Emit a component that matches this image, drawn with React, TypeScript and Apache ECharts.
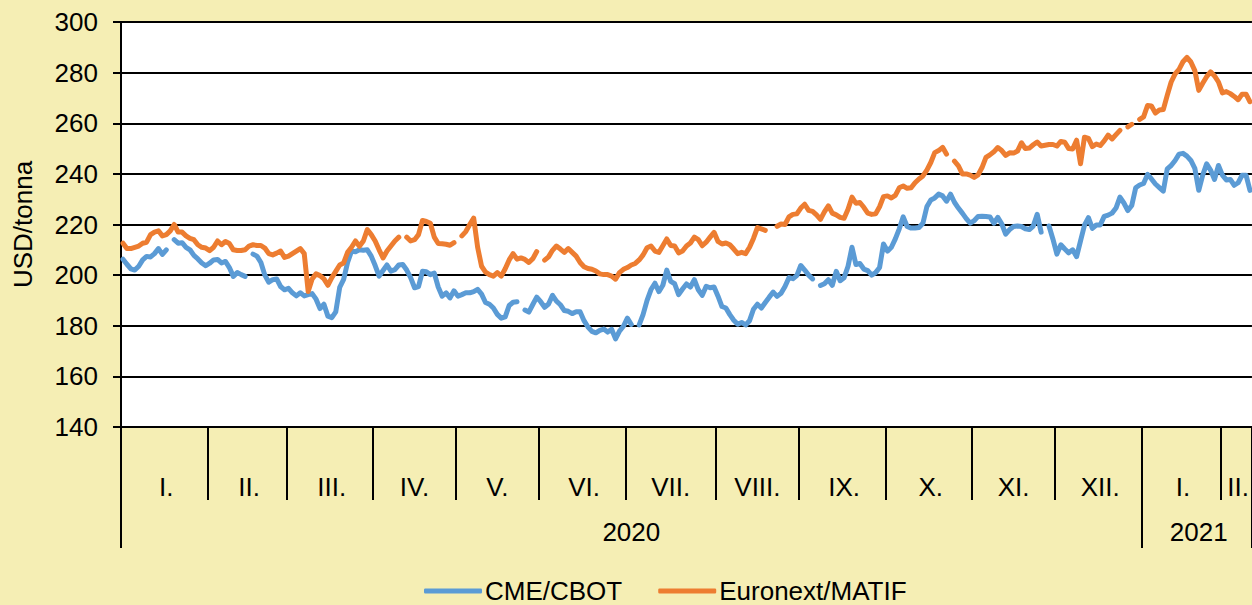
import React, { useEffect, useRef } from "react";
import * as echarts from "echarts";

// Month structure (trading days shown per month)
const monthLabels = ["I.", "II.", "III.", "IV.", "V.", "VI.", "VII.", "VIII.", "IX.", "X.", "XI.", "XII.", "I.", "II."];
const monthYears = [2020, 2020, 2020, 2020, 2020, 2020, 2020, 2020, 2020, 2020, 2020, 2020, 2021, 2021];
const monthNumbers = [1, 2, 3, 4, 5, 6, 7, 8, 9, 10, 11, 12, 1, 2];
const monthTradingDays = [22, 20, 22, 21, 21, 22, 23, 21, 22, 22, 21, 22, 20, 8];
const yearLabels = ["2020", "2021"];

const seriesNames = ["CME/CBOT", "Euronext/MATIF"];

// USD/tonna, one value per trading day (null = no quotation)
const cmeCbot = [
  206.3, 204.3, 202.5, 202, 203.5, 206, 207.4, 207.2, 208.5, 210.5, 208.2, 210, null, 214, 212.6, 212.8, 211, 210, 207.8, 206.4, 204.8, 203.7,
  204.7, 206, 206.2, 204.8, 205.4, 203, 199.5, 201, 200.2, 199.5, null, 208.3, 207.5, 205, 200, 197.2, 198.2, 198.5, 195.5, 194.2,
  194.8, 193, 191.8, 193, 191.8, 192.3, 192.7, 190.5, 186.8, 188.5, 183.8, 183.2, 185.5, 195.2, 198.3, 205, 209.5, 209.2, 210, 209.8, 210, 207.5,
  203.8, 199.6, 201.8, 204, 201.6, 202.2, 204, 204.2, 202, 199, 195, 195.5, 201.5, 201.3, 200.2, 200.8, 195.3, 191.7, 193, 191, 193.8,
  191.7, 192.3, 193, 193, 193.5, 194.4, 192.5, 189.2, 188.5, 187, 184.5, 183, 183.5, 188, 189.3, 189.5, null, 186.2, 185.4, 188.4, 191.3,
  189.5, 187.3, 188.6, 192, 189.7, 188.3, 186, 185.7, 184.8, 185.5, 185.5, 182, 179.5, 177.8, 177.2, 178.2, 178.7, 177.5, 178.6, 174.8, 177.9, 179.8,
  183, 180.5, null, 180.3, 184.5, 190, 194.3, 196.8, 193.5, 196, 202, 197.5, 196.6, 192.3, 194.5, 196.5, 195.3, 198.2, 194.2, 192, 195.6, 195, 195.3,
  191.7, 187.6, 187, 184.4, 182.2, 180.6, 181.3, 180.3, 182, 186.5, 188.5, 187, 189.2, 191.3, 193.3, 191.6, 192.8, 195.5, 199, 198.6, 199.8,
  203.8, 202, 200, 198.5, null, 195.9, 196.6, 198.2, 196, 201.5, 197.8, 199, 203.5, 211, 204.2, 204.6, 202.4, 201.8, 200, 201, 203, 212.3,
  209.5, 211, 214.3, 218.3, 223, 219.2, 218.6, 218.6, 218.8, 220.5, 227, 229.7, 230.5, 232, 231.3, 229.2, 232, 228.8, 226.5, 224.5, 222.3, 220.5,
  221.5, 223.2, 223.3, 223.2, 223, 220.5, 222.8, 220.3, 216.2, 218, 219.2, 219.4, 219.2, 218.3, 218, 219.4, 224, 217, null, 219.4, 214.2,
  208.3, 212, 210.3, 208.8, 210, 207.3, 213.5, 219.7, 222.7, 218.5, 219.8, 219.8, 223.2, 223.7, 224.5, 226.5, 230.8, 228.5, 225.5, 227.5, 234.5, 235.6,
  236.2, 239.8, 238, 236, 234.6, 233.2, 242, 243.3, 245.3, 247.8, 248.1, 247, 245.3, 242.2, 233.5, 239.5, 244, 241.5, 237.8, 243.3,
  239.5, 237.6, 237.8, 235.5, 236.5, 239.5, 239.5, 233.5,
];

const euronextMatif = [
  212.6, 210.5, 210.5, 211, 211.5, 212.6, 213, 216, 217, 217.5, 215.5, 216, 217.5, 220, 217, 217, 215.5, 214.5, 214, 212, 211, 210.7,
  209.7, 211, 213.5, 212, 213.3, 212.5, 210, 209.7, 209.7, 210, 211.5, 212, 211.7, 211.7, 210.7, 208.5, 208, 208.7, 209.5, 207,
  207.5, 208.5, 209.5, 210.5, 208.5, 193.5, 198.5, 200.5, 199.8, 198.5, 196, 199, 201.5, 204, 204.8, 209, 211, 213.5, 211.4, 213.5, 218, 216,
  213.5, 210, 206.8, 209.5, 211.5, 213.5, 215, null, 215, 213.5, 214, 216, 221.6, 221.2, 220.5, 215, 212.5, 212.4, 212.2, 211.8, 212.8,
  null, 215.5, 217.2, 220, 222.5, 211, 203.5, 201.2, 200.2, 199.6, 201, 199.6, 202.5, 206, 208.5, 206.3, 206.8, 206.2, 205, 206.5, 209.3,
  null, 205.9, 207.2, 209.8, 211.5, 210.3, 209, 210.5, 209, 207.5, 205, 203.3, 202.6, 202.3, 201.6, 200.5, 200.2, 200.2, 199.6, 198.4, 201, 202.3,
  203, 204, 204.6, 206, 208, 210.8, 211.5, 209.5, 209, 211.6, 214.3, 211.7, 211.5, 208.8, 209.5, 211.5, 212.7, 215, 214, 211.6, 213, 215, 216.9,
  213.3, 212.3, 212.7, 212, 210.3, 208.5, 209, 208.5, 211, 214.5, 218.8, 218.3, 217.7, null, null, 219.3, 220.2, 220, 223, 224, 224.2,
  226.5, 228, 225.6, 225.2, 223.8, 222, 225, 227.4, 224.5, 223.8, 222.8, 222.5, 226, 230.8, 228.4, 228.7, 226.8, 224.5, 224, 224.2, 227, 231,
  231.3, 230.5, 231.5, 234.5, 235.2, 234.3, 234.5, 236.5, 238, 239.2, 241.5, 244.5, 248.4, 249.2, 250.5, 247.8, null, 245, 243.2, 240, 240, 239.5,
  238.6, 239.6, 242.5, 246.5, 247.5, 248.7, 250.4, 249.2, 247.3, 248.3, 248.2, 249, 252.3, 250, 250.2, 251.5, 252.6, 251, 251.3, 251.6, 251.6,
  251, 252.8, 252.5, 250, 249.8, 253.3, 244, 254.5, 254, 250.8, 251.8, 251.2, 253, 255.3, 253.8, 255.5, 257.2, null, 258.6, 259.6, null, 261.5,
  262.5, 267, 266.8, 264, 265.2, 265.4, 271, 276.3, 279.5, 281.3, 284.3, 286, 284.2, 280.8, 273, 275.8, 278.4, 280.3, 278.7, 276.3,
  272, 272.5, 271.7, 270.6, 269.3, 271.5, 271.5, 268.5,
];

const yMin = 140;
const yMax = 300;
const yStep = 20;

// Derived category structure
const categories: string[] = [];
const monthStart: number[] = [];
const monthMid: number[] = [];
monthTradingDays.forEach((n, m) => {
  monthStart.push(categories.length);
  monthMid.push(categories.length + Math.round((n - 1) / 2));
  for (let d = 1; d <= n; d++) {
    categories.push(`${monthYears[m]}-${String(monthNumbers[m]).padStart(2, "0")}/${d}`);
  }
});
const yearStart: number[] = [];
const yearMid: number[] = [];
yearLabels.forEach((y) => {
  const idx = categories.map((c, i) => (c.startsWith(y) ? i : -1)).filter((i) => i >= 0);
  yearStart.push(idx[0]);
  yearMid.push(idx[0] + Math.round((idx.length - 1) / 2));
});

const FONT = "'Liberation Sans', Arial, sans-serif";
const BG = "#F5EEB4";

export default function App() {
  const ref = useRef<HTMLDivElement>(null);
  useEffect(() => {
    if (!ref.current) return;
    const chart = echarts.init(ref.current, undefined, { renderer: "svg" });
    const black = "#000000";
    chart.setOption({
      animation: false,
      backgroundColor: BG,
      textStyle: { fontFamily: FONT },
      grid: {
        left: 121,
        right: 0,
        top: 22,
        bottom: 178,
        show: true,
        backgroundColor: "#ffffff",
        borderWidth: 0,
      },
      legend: {
        data: seriesNames,
        left: 424,
        top: 578,
        padding: [0, 0, 0, 0],
        icon: "roundRect",
        itemWidth: 58,
        itemHeight: 5,
        itemGap: 36,
        textStyle: { fontSize: 26, color: black, fontFamily: FONT, padding: [0, 0, 0, -2] },
      },
      xAxis: [
        {
          type: "category",
          data: categories,
          boundaryGap: true,
          axisLine: { show: true, lineStyle: { color: black, width: 2 } },
          axisTick: { show: false },
          axisLabel: { show: false },
          splitLine: { show: false },
        },
        {
          type: "category",
          data: categories,
          position: "bottom",
          boundaryGap: true,
          axisLine: { show: false },
          axisTick: {
            show: true,
            length: 73,
            interval: (i: number) => monthStart.includes(i),
            lineStyle: { color: black, width: 2 },
          },
          axisLabel: {
            show: true,
            interval: (i: number) => monthMid.includes(i),
            formatter: (_v: string, i: number) => monthLabels[monthMid.indexOf(i)] ?? "",
            margin: 47,
            fontSize: 26,
            color: black,
            fontFamily: FONT,
          },
          splitLine: { show: false },
        },
        {
          type: "category",
          data: categories,
          position: "bottom",
          boundaryGap: true,
          axisLine: { show: false },
          axisTick: {
            show: true,
            length: 121,
            interval: (i: number) => yearStart.includes(i),
            lineStyle: { color: black, width: 2 },
          },
          axisLabel: {
            show: true,
            interval: (i: number) => yearMid.includes(i),
            formatter: (_v: string, i: number) => yearLabels[yearMid.indexOf(i)] ?? "",
            margin: 92,
            fontSize: 26,
            color: black,
            fontFamily: FONT,
          },
          splitLine: { show: false },
        },
      ],
      yAxis: {
        type: "value",
        min: yMin,
        max: yMax,
        interval: yStep,
        name: "USD/tonna",
        nameLocation: "middle",
        nameRotate: 90,
        nameGap: 85,
        nameTextStyle: { fontSize: 26, color: black, fontFamily: FONT },
        axisLine: { show: true, lineStyle: { color: black, width: 2 } },
        axisTick: { show: true, length: 8, lineStyle: { color: black, width: 2 } },
        axisLabel: { margin: 23, fontSize: 26, color: black, fontFamily: FONT },
        splitLine: { show: true, lineStyle: { color: black, width: 2 } },
      },
      series: [
        {
          name: seriesNames[0],
          type: "line",
          data: cmeCbot,
          xAxisIndex: 0,
          showSymbol: false,
          symbol: "none",
          connectNulls: false,
          color: "#5B9BD5",
          lineStyle: { width: 5, color: "#5B9BD5", cap: "round", join: "round" },
        },
        {
          name: seriesNames[1],
          type: "line",
          data: euronextMatif,
          xAxisIndex: 0,
          showSymbol: false,
          symbol: "none",
          connectNulls: false,
          color: "#ED7D31",
          lineStyle: { width: 5, color: "#ED7D31", cap: "round", join: "round" },
        },
      ],
    });
    return () => chart.dispose();
  }, []);
  return (
    <div
      ref={ref}
      style={{ position: "absolute", left: 0, top: 0, width: 1252, height: 605 }}
    />
  );
}
